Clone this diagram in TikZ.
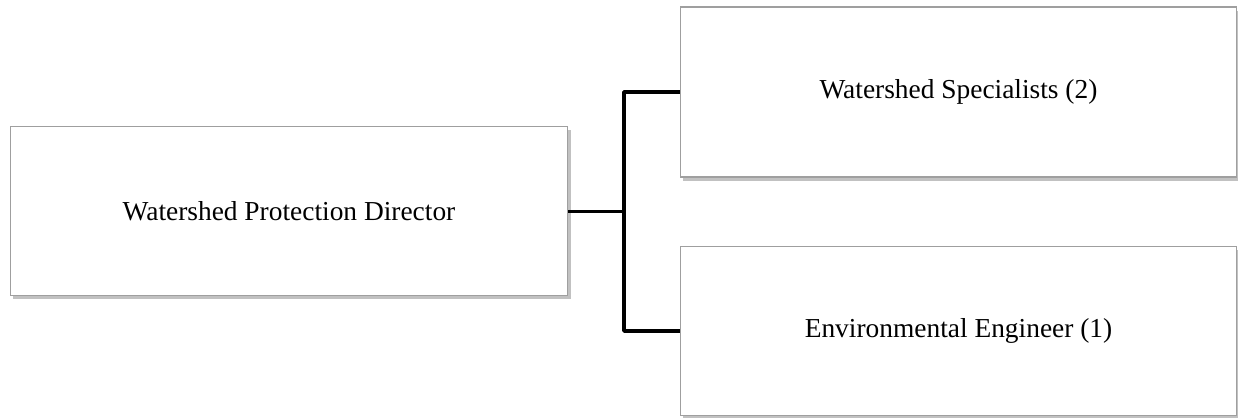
\documentclass[tikz,border=0pt]{standalone}
\usepackage{fontspec}
\setmainfont{Liberation Serif}
\usetikzlibrary{shadows}

\tikzset{
  staffbox/.style={draw=gray!75, line width=0.6pt, fill=white, rectangle,
    minimum width=11.14cm, minimum height=3.38cm, inner sep=0pt,
    font=\fontsize{15.6}{18}\selectfont,
    drop shadow={shadow xshift=1.5pt, shadow yshift=-2pt, fill=gray!60, opacity=0.8}},
  orgline/.style={draw=black, line width=2pt, line join=round},
  stemline/.style={draw=black, line width=1.7pt}
}

\begin{document}
\begin{tikzpicture}[x=0.02cm, y=-0.02cm]
    \useasboundingbox (0,0) rectangle (1238,417);

    % Director
    \node[staffbox, minimum width=11.16cm] (director) at (289,211) {Watershed Protection Director};

    % Staff under the director
    \node[staffbox, minimum height=3.4cm] (specialists) at (958.5,92) {Watershed Specialists (2)};
    \node[staffbox] (engineer) at (958.5,331) {Environmental Engineer (1)};

    % Branch point
    \coordinate (fork) at (624,211);

    % Edges
    \path[stemline] (director.east) -- (fork);
    \path[orgline] (fork) |- (specialists.west);
    \path[orgline] (fork) |- (engineer.west);

\end{tikzpicture}
\end{document}
